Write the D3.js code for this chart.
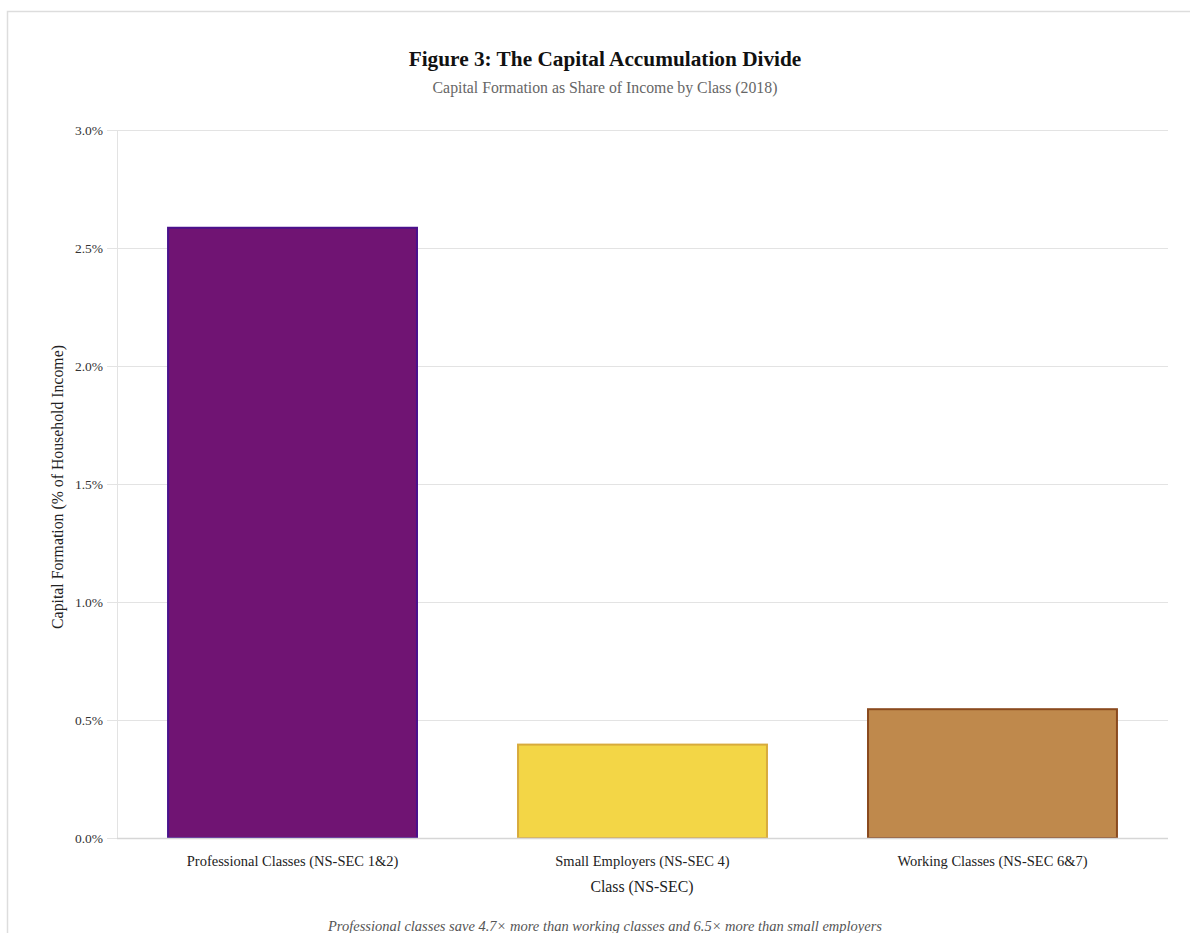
<!DOCTYPE html>
<html><head><meta charset="utf-8">
<script src="https://cdn.jsdelivr.net/npm/d3@7"></script>
<style>
html,body{margin:0;padding:0;background:#fff;}
svg{display:block;font-family:"Liberation Serif","Times New Roman",serif;}
</style></head>
<body>
<svg id="chart" width="1190" height="933"></svg>
<script>
const categories = ["Professional Classes (NS-SEC 1&2)", "Small Employers (NS-SEC 4)", "Working Classes (NS-SEC 6&7)"];
const values = [2.59, 0.40, 0.55];
const fills = ["#701473", "#f3d646", "#bf894c"];
const strokes = ["#4a118c", "#d8ab3c", "#8a4a1e"];
const yTicks = [0, 0.5, 1.0, 1.5, 2.0, 2.5, 3.0];
const title = "Figure 3: The Capital Accumulation Divide";
const subtitle = "Capital Formation as Share of Income by Class (2018)";
const xTitle = "Class (NS-SEC)";
const yTitle = "Capital Formation (% of Household Income)";
const note = "Professional classes save 4.7× more than working classes and 6.5× more than small employers";

const svg = d3.select("#chart");
// card border
svg.append("rect").attr("x", 7.5).attr("y", 11.5).attr("width", 1200).attr("height", 1000)
  .attr("fill", "none").attr("stroke", "#dddddd").attr("stroke-width", 1.5);

const m = {left: 117, right: 1168, top: 130, bottom: 838};
const x = d3.scaleBand().domain(categories).range([m.left, m.right]).paddingInner(0.283).paddingOuter(0.143);
const y = d3.scaleLinear().domain([0, 3]).range([m.bottom, m.top]);

// gridlines
svg.append("g").selectAll("line").data(yTicks).join("line")
  .attr("x1", m.left - 10).attr("x2", m.right)
  .attr("y1", d => y(d) + 0.5).attr("y2", d => y(d) + 0.5)
  .attr("stroke", "#e3e3e3").attr("stroke-width", 1);
// left axis line
svg.append("line").attr("x1", m.left + 0.5).attr("x2", m.left + 0.5)
  .attr("y1", m.top).attr("y2", m.bottom).attr("stroke", "#e3e3e3");

// y axis labels
const yAxis = d3.axisLeft(y).tickValues(yTicks).tickFormat(d => d3.format(".1f")(d) + "%").tickSize(0).tickPadding(14);
const yg = svg.append("g").attr("transform", `translate(${m.left},0)`).call(yAxis);
yg.select(".domain").remove();
yg.selectAll("text").attr("font-family", "Liberation Serif, serif").attr("font-size", 13.5).attr("fill", "#333");

// bars
svg.append("g").selectAll("rect").data(categories).join("rect")
  .attr("x", d => x(d) + 1)
  .attr("width", x.bandwidth() - 2)
  .attr("y", (d, i) => y(values[i]) + 1)
  .attr("height", (d, i) => y(0) - y(values[i]) - 1)
  .attr("fill", (d, i) => fills[i])
  .attr("stroke", (d, i) => strokes[i])
  .attr("stroke-width", 2);

// x axis baseline
svg.append("line").attr("x1", m.left).attr("x2", m.right)
  .attr("y1", m.bottom + 0.5).attr("y2", m.bottom + 0.5).attr("stroke", "#d6d6d6").attr("stroke-width", 1.5);

// x axis labels
const xAxis = d3.axisBottom(x).tickSize(0).tickPadding(18);
const xg = svg.append("g").attr("transform", `translate(0,${m.bottom})`).call(xAxis);
xg.select(".domain").remove();
xg.selectAll("text").attr("font-family", "Liberation Serif, serif").attr("font-size", 14.5).attr("fill", "#222");

// titles
svg.append("text").attr("x", 605).attr("y", 66).attr("text-anchor", "middle")
  .attr("font-size", 21.3).attr("font-weight", "bold").attr("fill", "#111").text(title);
svg.append("text").attr("x", 605).attr("y", 93).attr("text-anchor", "middle")
  .attr("font-size", 15.8).attr("fill", "#666").text(subtitle);
svg.append("text").attr("x", 642).attr("y", 892).attr("text-anchor", "middle")
  .attr("font-size", 15.8).attr("fill", "#222").text(xTitle);
svg.append("text").attr("transform", `translate(63,${(m.top + m.bottom) / 2 + 3}) rotate(-90)`)
  .attr("text-anchor", "middle").attr("font-size", 15.8).attr("fill", "#222").text(yTitle);
svg.append("text").attr("x", 605).attr("y", 931).attr("text-anchor", "middle")
  .attr("font-size", 14.5).attr("font-style", "italic").attr("fill", "#555").text(note);
</script>
</body></html>
